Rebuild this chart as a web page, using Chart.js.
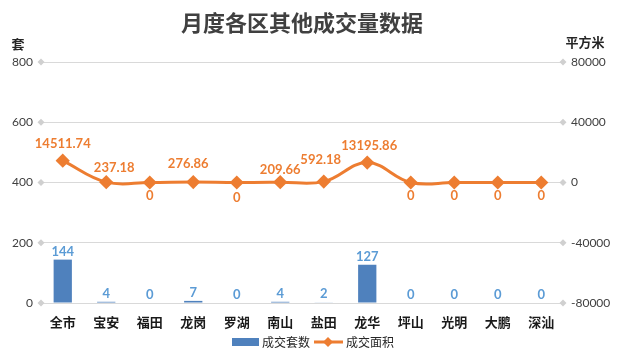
<!DOCTYPE html>
<html>
<head>
<meta charset="utf-8">
<script src="https://cdn.jsdelivr.net/npm/chart.js@4/dist/chart.umd.min.js"></script>
<style>
    html, body { margin: 0; padding: 0; background: #fff; }
    #wrap { width: 622px; height: 359px; position: relative; }
</style>
</head>
<body>
<div id="wrap"><canvas id="chart" width="622" height="359"></canvas></div>
<script>
const districts = ['全市', '宝安', '福田', '龙岗', '罗湖', '南山', '盐田', '龙华', '坪山', '光明', '大鹏', '深汕'];
const unitCounts = [144, 4, 0, 7, 0, 4, 2, 127, 0, 0, 0, 0];
const areas = [14511.74, 237.18, 0, 276.86, 0, 209.66, 592.18, 13195.86, 0, 0, 0, 0];
const countTicks = [0, 200, 400, 600, 800];
const areaTicks = [-80000, -40000, 0, 40000, 80000];

const chartTitle = '月度各区其他成交量数据';
const countUnit = '套';
const areaUnit = '平方米';
const seriesNames = ['成交套数', '成交面积'];

// small nudges for the line labels so they don't collide (x, y in px)
const lineLabelNudge = [[0, 0], [8, 3], [0, 0], [-5, -1], [0, 2], [0, 5], [-3, -5], [2, 0], [0, 0], [0, 0], [0, 0], [0, 0]];

const cjkFont = '"Microsoft YaHei", "Noto Sans CJK SC", sans-serif';
const numFont = 'Lato, "Noto Sans", sans-serif';
const barColor = '#4F81BD';
const lineColor = '#ED7D31';
const gridColor = '#D9D9D9';

function diamond(ctx, x, y, r) {
    ctx.beginPath();
    ctx.moveTo(x, y - r);
    ctx.lineTo(x + r, y);
    ctx.lineTo(x, y + r);
    ctx.lineTo(x - r, y);
    ctx.closePath();
    ctx.fill();
}

function plainNumber(value) {
    return String(value);
}

// grid end markers, title, axis units, value labels and legend
const decorPlugin = {
    id: 'decor',
    beforeDatasetsDraw(chart) {
        const ctx = chart.ctx;
        const area = chart.chartArea;
        const yScale = chart.scales.y;
        ctx.save();
        ctx.fillStyle = '#D0D0D0';
        yScale.ticks.forEach((t) => {
            const y = yScale.getPixelForValue(t.value);
            diamond(ctx, area.left, y, 3.5);
            diamond(ctx, area.right, y, 3.5);
        });
        ctx.restore();
    },
    afterDatasetsDraw(chart) {
        const ctx = chart.ctx;
        const area = chart.chartArea;
        ctx.save();

        ctx.fillStyle = '#404040';
        ctx.textAlign = 'center';
        ctx.textBaseline = 'middle';
        ctx.font = 'bold 22px ' + cjkFont;
        ctx.fillText(chartTitle, (area.left + area.right) / 2, 23);

        ctx.font = 'bold 13px ' + cjkFont;
        ctx.fillStyle = '#262626';
        ctx.fillText(countUnit, 18, 44);
        ctx.fillText(areaUnit, 585, 42);

        // bar labels
        const barMeta = chart.getDatasetMeta(0);
        ctx.font = 'bold 13px ' + numFont;
        ctx.fillStyle = '#5B9BD5';
        ctx.textBaseline = 'alphabetic';
        barMeta.data.forEach((el, i) => {
            ctx.fillText(String(unitCounts[i]), el.x, el.y - 4);
        });

        // line labels
        const lineMeta = chart.getDatasetMeta(1);
        ctx.fillStyle = lineColor;
        ctx.textBaseline = 'middle';
        lineMeta.data.forEach((el, i) => {
            const v = areas[i];
            const nudge = lineLabelNudge[i];
            const y = v === 0 ? el.y + 13 : el.y - 17;
            ctx.fillText(String(v), el.x + nudge[0], y + nudge[1]);
        });

        // legend
        const ly = 342;
        ctx.font = '12px ' + cjkFont;
        ctx.textAlign = 'left';
        ctx.fillStyle = barColor;
        ctx.fillRect(232, ly - 4, 27, 8);
        ctx.fillStyle = '#262626';
        ctx.fillText(seriesNames[0], 262, ly);
        ctx.strokeStyle = lineColor;
        ctx.lineWidth = 3;
        ctx.beginPath();
        ctx.moveTo(314, ly);
        ctx.lineTo(343, ly);
        ctx.stroke();
        ctx.fillStyle = lineColor;
        diamond(ctx, 328, ly, 5);
        ctx.fillStyle = '#262626';
        ctx.fillText(seriesNames[1], 346, ly);

        ctx.restore();
    },
};

function buildChart() {
    const ctx = document.getElementById('chart').getContext('2d');
    return new Chart(ctx, {
        data: {
            labels: districts,
            datasets: [
                {
                    type: 'bar',
                    label: seriesNames[0],
                    data: unitCounts,
                    backgroundColor: barColor,
                    yAxisID: 'y',
                    order: 1,
                    barPercentage: 0.42,
                    categoryPercentage: 1,
                },
                {
                    type: 'line',
                    label: seriesNames[1],
                    data: areas,
                    borderColor: lineColor,
                    backgroundColor: lineColor,
                    borderWidth: 3,
                    tension: 0.4,
                    pointStyle: 'rectRot',
                    pointRadius: 5,
                    yAxisID: 'y1',
                    order: 0,
                },
            ],
        },
        options: {
            responsive: false,
            animation: false,
            layout: {
                padding: {top: 62, bottom: 26, left: 0, right: 0},
            },
            plugins: {
                legend: {display: false},
                title: {display: false},
                tooltip: {enabled: false},
            },
            scales: {
                x: {
                    grid: {display: false},
                    border: {display: false},
                    ticks: {
                        padding: 3,
                        color: '#1A1A1A',
                        font: {family: cjkFont, size: 13, weight: 'bold'},
                    },
                    afterFit(scale) {
                        scale.height = 30;
                    },
                },
                y: {
                    position: 'left',
                    min: countTicks[0],
                    max: countTicks[countTicks.length - 1],
                    ticks: {
                        stepSize: countTicks[1] - countTicks[0],
                        padding: 8,
                        color: '#404040',
                        font: {family: numFont, size: 12},
                        callback: plainNumber,
                    },
                    grid: {color: gridColor, drawTicks: false},
                    border: {display: false},
                    afterFit(scale) {
                        scale.width = 41;
                    },
                },
                y1: {
                    position: 'right',
                    min: areaTicks[0],
                    max: areaTicks[areaTicks.length - 1],
                    ticks: {
                        stepSize: areaTicks[1] - areaTicks[0],
                        padding: 8,
                        color: '#404040',
                        font: {family: numFont, size: 12},
                        callback: plainNumber,
                    },
                    grid: {display: false, drawTicks: false},
                    border: {display: false},
                    afterFit(scale) {
                        scale.width = 59;
                    },
                },
            },
        },
        plugins: [decorPlugin],
    });
}

buildChart();
</script>
</body>
</html>
